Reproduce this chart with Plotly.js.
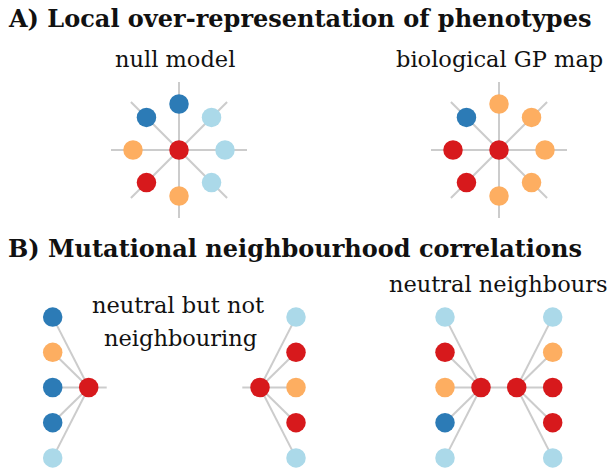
<!DOCTYPE html>
<html>
<head>
<meta charset="utf-8">
<script src="https://cdn.plot.ly/plotly-3.0.1.min.js"></script>
<style>html,body{margin:0;padding:0;background:#fff;}#chart{width:608px;height:475px;}</style>
</head>
<body>
<div id="chart"></div>
<script>
// ---- data (phenotype of each node) ----
const phenotypeColors = {focal: '#d7191c', orange: '#fdae61', lightblue: '#abd9e9', blue: '#2c7bb6'};
// Panel A: neighbours at angles 0,45,...,315 degrees (counter-clockwise from right)
const spokeAngles = [0, 45, 90, 135, 180, 225, 270, 315];
const nullModelNeighbours = ['lightblue', 'lightblue', 'blue', 'blue', 'orange', 'focal', 'orange', 'lightblue'];
const gpMapNeighbours = ['orange', 'orange', 'orange', 'blue', 'focal', 'focal', 'orange', 'orange'];
// Panel B: neighbour columns, top to bottom
const notNeighbouringLeft = ['blue', 'orange', 'blue', 'blue', 'lightblue'];
const notNeighbouringRight = ['lightblue', 'focal', 'orange', 'focal', 'lightblue'];
const neutralNeighboursLeft = ['lightblue', 'focal', 'orange', 'blue', 'lightblue'];
const neutralNeighboursRight = ['lightblue', 'orange', 'focal', 'focal', 'lightblue'];
const panelTitles = ['A) Local over-representation of phenotypes', 'B) Mutational neighbourhood correlations'];
const subTitles = ['null model', 'biological GP map', 'neutral but not', 'neighbouring', 'neutral neighbours'];

// ---- layout geometry ----
const RNODE = 46, RSPOKE = 68, COLDX = 36, ROWDY = 35.2;
const lx = [], ly = [], mx = [], my = [], mc = [];
function seg(x0, y0, x1, y1) { lx.push(x0, x1, null); ly.push(y0, y1, null); }
function node(x, y, p) { mx.push(x); my.push(y); mc.push(phenotypeColors[p]); }

function star(cx, cy, neigh) {
  spokeAngles.forEach((a, i) => {
    const r = a * Math.PI / 180;
    seg(cx, cy, cx + RSPOKE * Math.cos(r), cy - RSPOKE * Math.sin(r));
  });
  node(cx, cy, 'focal');
  spokeAngles.forEach((a, i) => {
    const r = a * Math.PI / 180;
    node(cx + RNODE * Math.cos(r), cy - RNODE * Math.sin(r), neigh[i]);
  });
}
function fan(cx, cy, dir, neigh) {
  neigh.forEach((p, i) => {
    const y = cy + (i - 2) * ROWDY;
    seg(cx, cy, cx + dir * COLDX, y);
  });
  neigh.forEach((p, i) => node(cx + dir * COLDX, cy + (i - 2) * ROWDY, p));
  node(cx, cy, 'focal');
}

star(179, 150, nullModelNeighbours);
star(499, 150, gpMapNeighbours);
const BY = 387.5;
seg(88.7, BY, 106.7, BY);
fan(88.7, BY, -1, notNeighbouringLeft);
seg(260, BY, 242.3, BY);
fan(260, BY, 1, notNeighbouringRight);
seg(481, BY, 516.7, BY);
fan(481, BY, -1, neutralNeighboursLeft);
fan(516.7, BY, 1, neutralNeighboursRight);

const traces = [
  {x: lx, y: ly, mode: 'lines', line: {color: '#cccccc', width: 2}, hoverinfo: 'skip', showlegend: false},
  {x: mx, y: my, mode: 'markers', marker: {color: mc, size: 19.5, line: {width: 0}}, hoverinfo: 'skip', showlegend: false}
];

const FONT = '"DejaVu Serif", serif';
const ann = (text, x, y, size, anchor) => ({text, x, y, xref: 'x', yref: 'y', showarrow: false,
  xanchor: anchor || 'center', yanchor: 'middle', font: {family: FONT, size, color: '#111'}});
const annotations = [
  ann('<b>' + panelTitles[0] + '</b>', 6, 18, 24, 'left'),
  ann('<b>' + panelTitles[1] + '</b>', 6, 248, 24, 'left'),
  ann(subTitles[0], 175, 59, 22.5),
  ann(subTitles[1], 499, 59, 22.5),
  ann(subTitles[2], 178, 305, 22.5),
  ann(subTitles[3], 180, 338, 22.5),
  ann(subTitles[4], 498, 284, 22.5)
];

const layout = {
  width: 608, height: 475, margin: {l: 0, r: 0, t: 0, b: 0},
  paper_bgcolor: '#fff', plot_bgcolor: '#fff',
  xaxis: {range: [0, 608], visible: false, fixedrange: true},
  yaxis: {range: [475, 0], visible: false, fixedrange: true},
  annotations, showlegend: false
};
Plotly.newPlot('chart', traces, layout, {staticPlot: true, displayModeBar: false});
</script>
</body>
</html>
